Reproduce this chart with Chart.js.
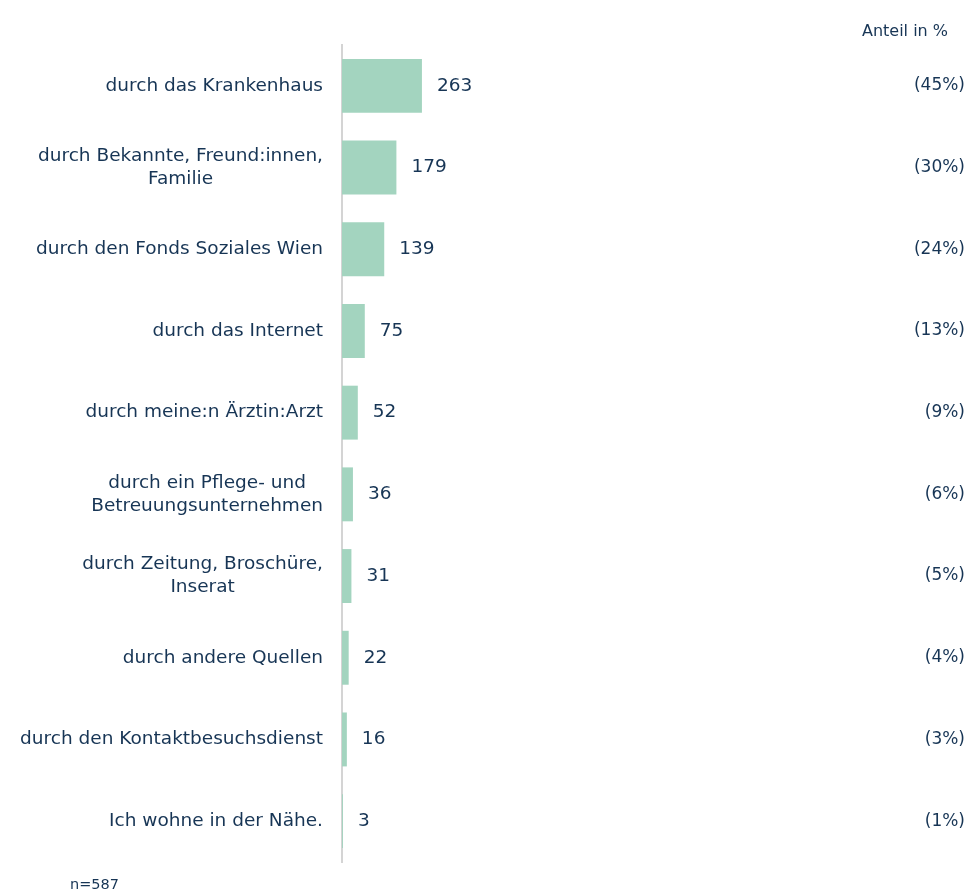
<!DOCTYPE html>
<html>
<head>
<meta charset="utf-8">
<script src="https://cdn.jsdelivr.net/npm/chart.js@4/dist/chart.umd.min.js"></script>
<style>
  body { margin: 0; background: #fff; }
  #wrap { position: relative; width: 971px; height: 896px; }
</style>
</head>
<body>
<div id="wrap"><canvas id="sourcesChart" width="971" height="896"></canvas></div>
<script>
const categories = [
    ['durch das Krankenhaus'],
    ['durch Bekannte, Freund:innen,', 'Familie'],
    ['durch den Fonds Soziales Wien'],
    ['durch das Internet'],
    ['durch meine:n Ärztin:Arzt'],
    ['durch ein Pflege- und', 'Betreuungsunternehmen'],
    ['durch Zeitung, Broschüre,', 'Inserat'],
    ['durch andere Quellen'],
    ['durch den Kontaktbesuchsdienst'],
    ['Ich wohne in der Nähe.']
];
const counts = [263, 179, 139, 75, 52, 36, 31, 22, 16, 3];
const shares = [45, 30, 24, 13, 9, 6, 5, 4, 3, 1];
const sampleNote = 'n=587';
const shareHeader = 'Anteil in %';

const textColor = '#173555';
const fontFamily = '"DejaVu Sans", sans-serif';

const labelsPlugin = {
    id: 'labelsPlugin',
    afterDraw(chart) {
        const ctx = chart.ctx;
        const area = chart.chartArea;
        const y = chart.scales.y;
        const meta = chart.getDatasetMeta(0);
        ctx.save();
        ctx.fillStyle = textColor;
        ctx.textBaseline = 'middle';

        categories.forEach((lines, i) => {
            const cy = y.getPixelForValue(i);
            const lh = 23;
            ctx.font = '18.5px ' + fontFamily;
            const widths = lines.map(l => ctx.measureText(l).width);
            const maxW = Math.max(...widths);
            const right = area.left - 19;
            lines.forEach((l, j) => {
                const ly = cy + (j - (lines.length - 1) / 2) * lh;
                ctx.textAlign = 'center';
                ctx.fillText(l, right - maxW / 2, ly);
            });

            const bar = meta.data[i];
            ctx.textAlign = 'left';
            ctx.fillText(String(counts[i]), bar.x + 15, cy);

            ctx.font = '17px ' + fontFamily;
            ctx.textAlign = 'right';
            ctx.fillText('(' + shares[i] + '%)', 965, cy);
        });

        ctx.font = '16px ' + fontFamily;
        ctx.textAlign = 'right';
        ctx.fillText(shareHeader, 948, 32);
        ctx.font = '14.5px ' + fontFamily;
        ctx.textAlign = 'left';
        ctx.fillText(sampleNote, 70, 885);
        ctx.restore();
    }
};

new Chart(document.getElementById('sourcesChart'), {
    type: 'bar',
    data: {
        labels: categories,
        datasets: [{
            data: counts,
            backgroundColor: '#a3d4bf',
            borderWidth: 0,
            barPercentage: 0.66,
            categoryPercentage: 1
        }]
    },
    options: {
        indexAxis: 'y',
        responsive: false,
        animation: false,
        layout: { padding: { left: 334, top: 45, right: 6, bottom: 34 } },
        scales: {
            x: { display: false, min: 0, max: 2050 },
            y: {
                display: true,
                ticks: { display: false },
                grid: { display: false },
                border: { display: true, color: '#d4d4d4', width: 2 }
            }
        },
        plugins: {
            legend: { display: false },
            tooltip: { enabled: false }
        }
    },
    plugins: [labelsPlugin]
});
</script>
</body>
</html>
